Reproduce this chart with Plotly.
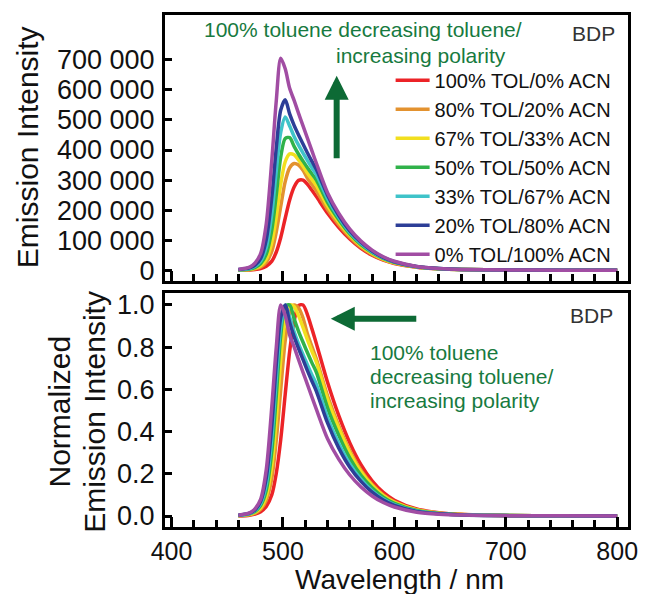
import plotly.graph_objects as go

# ---------------- data ----------------
wavelength = [460, 470, 475, 480, 485, 490, 494, 498, 502, 506, 510, 514, 518, 522,
              526, 530, 540, 550, 560, 570, 580, 590, 600, 620, 640, 660, 700, 750, 800]

series_names = ["100% TOL/0% ACN", "80% TOL/20% ACN", "67% TOL/33% ACN",
                "50% TOL/50% ACN", "33% TOL/67% ACN", "20% TOL/80% ACN",
                "0% TOL/100% ACN"]

tol100 = [0, 1200, 2700, 6100, 13700, 30400, 60800, 109000, 173000, 234000, 277000, 299000, 300000, 286000,
          266000, 245000, 190000, 143000, 104000, 73000, 50000, 33500, 22500, 10000, 4800, 2400, 900, 300, 150]
tol80 = [400, 2100, 5000, 11400, 26600, 63900, 128000, 213000, 295000, 341000, 355000, 350000, 333000, 306000,
         285000, 264000, 202000, 152000, 110000, 77000, 53000, 35500, 24000, 10600, 5000, 2500, 900, 400, 200]
tol67 = [600, 3100, 7000, 15500, 36900, 93100, 178000, 287000, 361000, 387000, 384000, 367000, 346000, 323000,
         302000, 282000, 214000, 161000, 116000, 81000, 56000, 37500, 25000, 11100, 5200, 2600, 1000, 400, 200]
tol50 = [900, 4500, 9900, 22500, 53900, 135000, 251000, 377000, 438000, 441000, 412000, 386000, 363000, 341000,
         320000, 300000, 226000, 169000, 121000, 85000, 59000, 39500, 26500, 11600, 5400, 2700, 1000, 400, 200]
tol33 = [1500, 6100, 13300, 30600, 76500, 189000, 332000, 459000, 510000, 480000, 445000, 416000, 390000, 365000,
         341000, 318000, 238000, 176000, 126000, 89000, 61000, 41000, 27500, 12000, 5600, 2800, 1100, 500, 250]
tol20 = [2300, 7900, 17000, 39700, 102000, 244000, 408000, 533000, 567000, 520000, 482000, 450000, 420000, 390000,
         362000, 335000, 250000, 183000, 131000, 93000, 64000, 43000, 28500, 12400, 5800, 2900, 1100, 500, 250]
tol0 = [2800, 10600, 24700, 56400, 155000, 367000, 564000, 705000, 670000, 605000, 565000, 522000, 480000, 439000,
        397000, 356000, 258000, 190000, 137000, 97000, 67000, 45000, 30000, 12800, 6000, 3000, 1200, 500, 300]

series_values = [tol100, tol80, tol67, tol50, tol33, tol20, tol0]
colors = ["#ec2327", "#e3922f", "#f2df1f", "#30b24a", "#3fc3c9", "#2d3e97", "#a14da3"]

y1_ticks = [0, 100000, 200000, 300000, 400000, 500000, 600000, 700000]
y1_ticktext = ["0", "100 000", "200 000", "300 000", "400 000", "500 000", "600 000", "700 000"]
y2_ticks = [0.0, 0.2, 0.4, 0.6, 0.8, 1.0]
y2_ticktext = ["0.0", "0.2", "0.4", "0.6", "0.8", "1.0"]
x_ticks = [400, 500, 600, 700, 800]

# ---------------- layout geometry ----------------
W, H = 650, 594
ML, MR, MT, MB = 165, 13, 13, 67
PW = W - ML - MR
PH = H - MT - MB


def px(x):
    return (x - ML) / PW


def py(y):
    return (H - MB - y) / PH


FONT = "Liberation Sans, Arial, sans-serif"
GREEN_T = "#177a40"
GREEN_A = "#0d6a35"

fig = go.Figure()
for name, vals, col in zip(series_names, series_values, colors):
    fig.add_trace(go.Scatter(x=wavelength, y=vals, mode="lines", name=name,
                             line=dict(color=col, width=3.5, shape="spline", smoothing=0.8),
                             xaxis="x", yaxis="y"))
for name, vals, col in zip(series_names, series_values, colors):
    m = max(vals)
    fig.add_trace(go.Scatter(x=wavelength, y=[v / m for v in vals], mode="lines", name=name,
                             showlegend=False,
                             line=dict(color=col, width=3.5, shape="spline", smoothing=0.8),
                             xaxis="x2", yaxis="y2"))

axis_common = dict(showline=True, linecolor="black", linewidth=3, mirror=True,
                   showgrid=False, zeroline=False, ticks="inside", tickcolor="black",
                   tickwidth=2.5)
yfont = dict(family=FONT, size=27, color="#111")
xfont = dict(family=FONT, size=25, color="#111")

xr = [394.1, 809.7]
fig.update_layout(
    width=W, height=H, margin=dict(l=ML, r=MR, t=MT, b=MB),
    paper_bgcolor="white", plot_bgcolor="white",
    font=dict(family=FONT, color="#111"),
    xaxis=dict(domain=[0, 1], range=xr, anchor="y", tickvals=x_ticks, showticklabels=False,
               ticklen=10, minor=dict(dtick=20, tick0=400, ticks="inside", ticklen=7,
                                      tickwidth=2.5, tickcolor="black"),
               tickfont=xfont, **axis_common),
    yaxis=dict(domain=[(H - MB - 280) / PH, 1], range=[-35500, 849000], anchor="x",
               tickvals=y1_ticks, ticktext=y1_ticktext, ticklen=7, ticklabelstandoff=2,
               tickfont=yfont, **axis_common),
    xaxis2=dict(domain=[0, 1], range=xr, anchor="y2", tickvals=x_ticks, ticklen=10,
                minor=dict(dtick=20, tick0=400, ticks="inside", ticklen=7,
                           tickwidth=2.5, tickcolor="black"),
                tickfont=xfont, **axis_common),
    yaxis2=dict(domain=[0, (H - MB - 292) / PH], range=[-0.052, 1.057], anchor="x2",
                tickvals=y2_ticks, ticktext=y2_ticktext, ticklen=7, ticklabelstandoff=2,
                tickfont=yfont, **axis_common),
    legend=dict(x=px(395), y=py(59), xanchor="left", yanchor="top",
                bgcolor="rgba(0,0,0,0)", borderwidth=0,
                font=dict(family=FONT, size=20, color="#111"),
                itemwidth=34, tracegroupgap=0),
    showlegend=True,
)

ann = []


def text(x, y, s, size=21, color=GREEN_T, xanchor="left", angle=0):
    ann.append(dict(x=px(x), y=py(y), xref="paper", yref="paper", text=s, showarrow=False,
                    xanchor=xanchor, yanchor="middle", textangle=angle,
                    font=dict(family=FONT, size=size, color=color)))


# top panel texts
text(203, 28, "100% toluene decreasing toluene/")
text(337, 54, "increasing polarity")
text(626, 32, "BDP", color="#333", xanchor="right")
# bottom panel texts
text(372, 352, "100% toluene")
text(372, 376, "decreasing toluene/")
text(372, 400, "increasing polarity")
text(624, 315, "BDP", color="#333", xanchor="right")
# axis titles
text(25, 146, "Emission Intensity", size=30, color="#111", xanchor="center", angle=-90)
text(57, 411, "Normalized", size=30, color="#111", xanchor="center", angle=-90)
text(93, 411, "Emission Intensity", size=30, color="#111", xanchor="center", angle=-90)
text(404, 580, "Wavelength / nm", size=28, color="#111", xanchor="center")

# arrows (tail offsets in pixels)
ann.append(dict(x=px(340), y=py(74), xref="paper", yref="paper", ax=0, ay=84,
                text="", showarrow=True, arrowhead=2,
                arrowsize=0.8, arrowwidth=6, arrowcolor=GREEN_A))
ann.append(dict(x=px(334), y=py(318), xref="paper", yref="paper", ax=87, ay=0,
                text="", showarrow=True, arrowhead=2,
                arrowsize=0.8, arrowwidth=6, arrowcolor=GREEN_A))

fig.update_layout(annotations=ann)
fig.write_html("out.html")
